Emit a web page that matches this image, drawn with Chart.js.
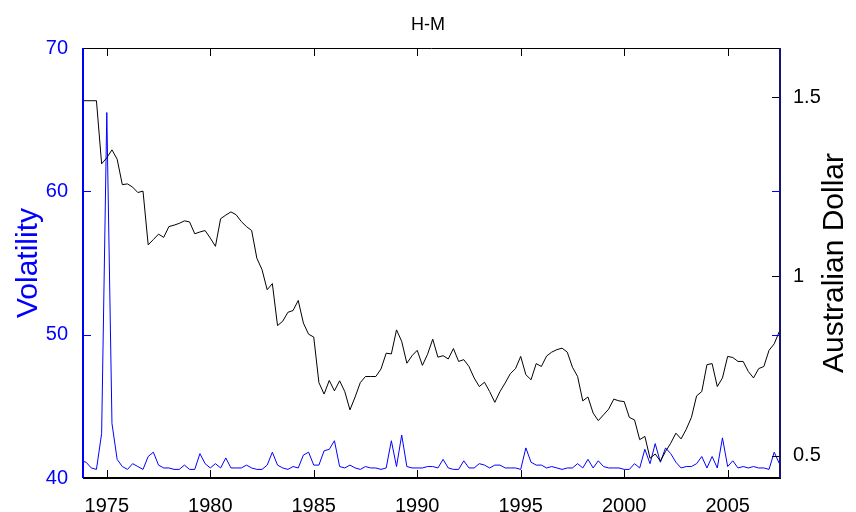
<!DOCTYPE html>
<html>
<head>
<meta charset="utf-8">
<title>H-M</title>
<script src="https://cdn.jsdelivr.net/npm/chart.js@4/dist/chart.umd.min.js"></script>
<style>
  body { margin: 0; background: #fff; }
  #wrap { width: 856px; height: 512px; position: relative; }
</style>
</head>
<body>
<div id="wrap"><canvas id="hmChart"></canvas></div>
<script>
// quarterly series, first quarter = 1973 Q4
var startYear = 1973.75;
var quarterStep = 0.25;

var xTicks = [1975, 1980, 1985, 1990, 1995, 2000, 2005];
var leftTicks = [40, 50, 60, 70];
var rightTicks = [0.5, 1, 1.5];

// Australian Dollar (right axis)
var audValues = [
    1.490,
    1.490, 1.490, 1.490, 1.314,   // 1974
    1.331, 1.353, 1.327, 1.256,   // 1975
    1.258, 1.249, 1.234, 1.238,   // 1976
    1.088, 1.103, 1.118, 1.109,   // 1977
    1.139, 1.143, 1.148, 1.155,   // 1978
    1.152, 1.119, 1.124, 1.128,   // 1979
    1.107, 1.084, 1.161, 1.171,   // 1980
    1.180, 1.172, 1.153, 1.139,   // 1981
    1.128, 1.051, 1.019, 0.963,   // 1982
    0.980, 0.863, 0.875, 0.900,   // 1983
    0.905, 0.933, 0.870, 0.839,   // 1984
    0.831, 0.704, 0.672, 0.710,   // 1985
    0.681, 0.709, 0.679, 0.628,   // 1986
    0.664, 0.704, 0.721, 0.721,   // 1987
    0.721, 0.742, 0.786, 0.784,   // 1988
    0.851, 0.819, 0.758, 0.779,   // 1989
    0.794, 0.752, 0.783, 0.825,   // 1990
    0.775, 0.779, 0.770, 0.799,   // 1991
    0.763, 0.768, 0.749, 0.717,   // 1992
    0.693, 0.705, 0.679, 0.649,   // 1993
    0.679, 0.703, 0.729, 0.743,   // 1994
    0.777, 0.726, 0.712, 0.757,   // 1995
    0.749, 0.778, 0.789, 0.796,   // 1996
    0.800, 0.789, 0.747, 0.721,   // 1997
    0.653, 0.664, 0.619, 0.598,   // 1998
    0.614, 0.630, 0.658, 0.653,   // 1999
    0.651, 0.607, 0.600, 0.545,   // 2000
    0.554, 0.493, 0.505, 0.485,   // 2001
    0.512, 0.535, 0.563, 0.547,   // 2002
    0.574, 0.607, 0.667, 0.679,   // 2003
    0.754, 0.757, 0.693, 0.717,   // 2004
    0.777, 0.774, 0.763, 0.763,   // 2005
    0.735, 0.717, 0.743, 0.749,   // 2006
    0.794, 0.812, 0.847           // 2007
];

// Volatility (left axis)
var volValues = [
    41.2,
    41.1, 40.7, 40.6, 43.1,   // 1974
    65.5, 43.8, 41.3, 40.8,   // 1975
    40.6, 41.0, 40.8, 40.6,   // 1976
    41.5, 41.8, 40.9, 40.7,   // 1977
    40.7, 40.6, 40.6, 40.9,   // 1978
    40.6, 40.6, 41.7, 41.0,   // 1979
    40.7, 41.0, 40.7, 41.4,   // 1980
    40.7, 40.7, 40.7, 40.9,   // 1981
    40.7, 40.6, 40.6, 40.9,   // 1982
    41.8, 40.9, 40.7, 40.6,   // 1983
    40.8, 40.7, 41.6, 41.8,   // 1984
    40.9, 40.9, 41.9, 42.0,   // 1985
    42.6, 40.8, 40.7, 40.9,   // 1986
    40.7, 40.6, 40.8, 40.7,   // 1987
    40.7, 40.6, 40.7, 42.6,   // 1988
    40.8, 43.0, 40.8, 40.7,   // 1989
    40.7, 40.7, 40.8, 40.8,   // 1990
    40.7, 41.3, 40.7, 40.6,   // 1991
    40.6, 41.2, 40.7, 40.7,   // 1992
    41.0, 40.9, 40.7, 40.9,   // 1993
    40.9, 40.7, 40.7, 40.7,   // 1994
    40.6, 42.1, 41.1, 40.9,   // 1995
    40.9, 40.7, 40.8, 40.7,   // 1996
    40.6, 40.7, 40.7, 41.0,   // 1997
    40.7, 41.3, 40.7, 41.2,   // 1998
    40.8, 40.7, 40.7, 40.7,   // 1999
    40.6, 40.6, 41.0, 40.7,   // 2000
    42.0, 41.0, 42.4, 41.1,   // 2001
    42.1, 41.7, 41.1, 40.7,   // 2002
    40.8, 40.8, 41.0, 41.5,   // 2003
    40.7, 41.5, 40.7, 42.8,   // 2004
    40.8, 41.2, 40.7, 40.8,   // 2005
    40.7, 40.8, 40.7, 40.7,   // 2006
    40.6, 41.8, 41.0          // 2007
];

var quarters = audValues.map(function(v, i) { return startYear + i * quarterStep; });

var fontFamily = "'Liberation Sans', Arial, sans-serif";
Chart.defaults.font.family = fontFamily;

// MATLAB-like box: inward ticks on all four sides + right-hand label
var boxPlugin = {
    id: 'boxPlugin',
    afterDatasetsDraw: function(chart) {
        var ctx = chart.ctx;
        var a = chart.chartArea;
        var sx = chart.scales.x, yl = chart.scales.y, yr = chart.scales.y1;
        var len = 8;
        ctx.save();
        ctx.lineWidth = 1;

        ctx.strokeStyle = '#000';
        ctx.beginPath();
        xTicks.forEach(function(v) {
            var px = Math.round(sx.getPixelForValue(v)) + 0.5;
            ctx.moveTo(px, a.bottom); ctx.lineTo(px, a.bottom - len);
            ctx.moveTo(px, a.top); ctx.lineTo(px, a.top + len);
        });
        rightTicks.forEach(function(v) {
            var py = Math.round(yr.getPixelForValue(v)) + 0.5;
            ctx.moveTo(a.right, py); ctx.lineTo(a.right - len, py);
        });
        ctx.stroke();

        ctx.strokeStyle = '#0000ff';
        ctx.beginPath();
        leftTicks.forEach(function(v) {
            var py = Math.round(yl.getPixelForValue(v)) + 0.5;
            ctx.moveTo(a.left, py); ctx.lineTo(a.left + len, py);
            ctx.moveTo(a.right, py); ctx.lineTo(a.right - len, py);
        });
        ctx.stroke();

        // frame
        ctx.lineWidth = 1;
        ctx.strokeStyle = '#000';
        ctx.beginPath();
        ctx.moveTo(a.left, a.top + 0.5); ctx.lineTo(a.right, a.top + 0.5);
        ctx.stroke();
        ctx.lineWidth = 2;
        ctx.beginPath();
        ctx.moveTo(a.left, a.bottom); ctx.lineTo(a.right + 1, a.bottom);
        ctx.stroke();
        ctx.strokeStyle = '#0000ff';
        ctx.beginPath();
        ctx.moveTo(a.left, a.top); ctx.lineTo(a.left, a.bottom);
        ctx.stroke();
        ctx.strokeStyle = '#16166e';
        ctx.beginPath();
        ctx.moveTo(a.right, a.top); ctx.lineTo(a.right, a.bottom);
        ctx.stroke();

        // right axis title reads bottom-to-top
        ctx.fillStyle = '#000';
        ctx.font = '30px ' + fontFamily;
        ctx.textAlign = 'center';
        ctx.textBaseline = 'middle';
        ctx.translate(835, (a.top + a.bottom) / 2);
        ctx.rotate(-Math.PI / 2);
        ctx.fillText('Australian Dollar', 0, 0);
        ctx.restore();
    }
};

var ctx = document.getElementById('hmChart').getContext('2d');
new Chart(ctx, {
    type: 'line',
    data: {
        datasets: [{
            label: 'Australian Dollar',
            data: quarters.map(function(q, i) { return { x: q, y: audValues[i] }; }),
            yAxisID: 'y1',
            borderColor: '#000000',
            borderWidth: 1,
            pointRadius: 0,
            tension: 0
        }, {
            label: 'Volatility',
            data: quarters.map(function(q, i) { return { x: q, y: volValues[i] }; }),
            yAxisID: 'y',
            borderColor: '#0000ff',
            borderWidth: 1,
            pointRadius: 0,
            tension: 0
        }]
    },
    options: {
        responsive: true,
        maintainAspectRatio: false,
        animation: false,
        layout: { padding: 0 },
        plugins: {
            legend: { display: false },
            tooltip: { enabled: false },
            title: {
                display: true,
                text: 'H-M',
                color: '#000',
                font: { size: 18, weight: 'normal' },
                padding: { top: 14.5, bottom: 11.9 }
            }
        },
        scales: {
            x: {
                type: 'linear',
                position: 'bottom',
                min: 1973.85,
                max: 2007.53,
                grid: { display: false },
                border: { display: false },
                afterBuildTicks: function(axis) {
                    axis.ticks = xTicks.map(function(v) { return { value: v }; });
                },
                afterFit: function(s) { s.height = 34; },
                ticks: {
                    color: '#000',
                    font: { size: 20 },
                    padding: 8,
                    maxRotation: 0,
                    autoSkip: false,
                    callback: function(v) { return String(v); }
                }
            },
            y: {
                position: 'left',
                min: 40,
                max: 70,
                grid: { display: false },
                border: { display: false },
                afterBuildTicks: function(axis) {
                    axis.ticks = leftTicks.map(function(v) { return { value: v }; });
                },
                afterFit: function(s) { s.width = 83; },
                ticks: {
                    color: '#0000ff',
                    font: { size: 20 },
                    padding: 7,
                    callback: function(v) { return String(v); }
                },
                title: {
                    display: true,
                    text: 'Volatility',
                    color: '#0000ff',
                    font: { size: 30 },
                    padding: { top: 11, bottom: 0 }
                }
            },
            y1: {
                position: 'right',
                min: 0.438,
                max: 1.637,
                grid: { display: false },
                border: { display: false },
                afterBuildTicks: function(axis) {
                    axis.ticks = rightTicks.map(function(v) { return { value: v }; });
                },
                afterFit: function(s) { s.width = 76; },
                ticks: {
                    color: '#000',
                    font: { size: 20 },
                    padding: 5,
                    callback: function(v) { return String(v); }
                }
            }
        }
    },
    plugins: [boxPlugin]
});
</script>
</body>
</html>
